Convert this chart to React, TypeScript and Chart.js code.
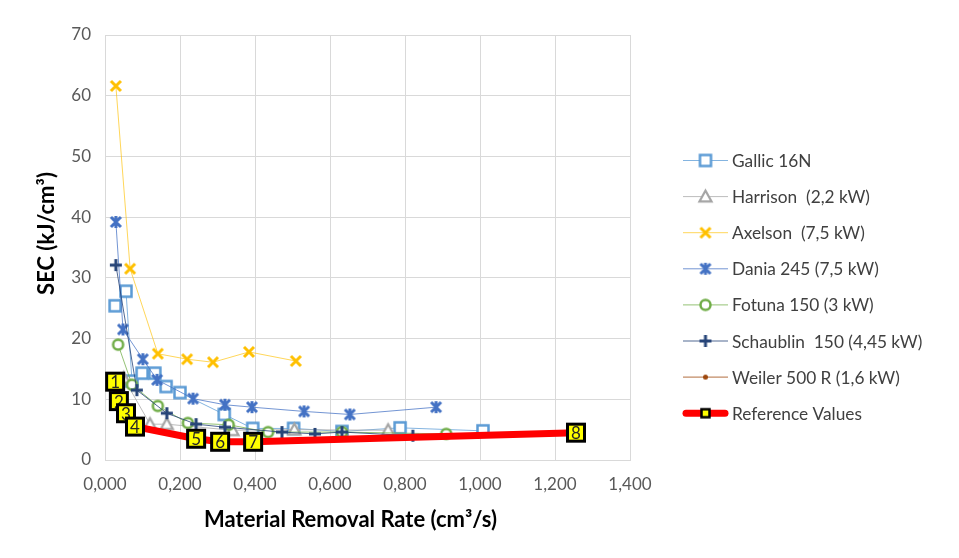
import React, { useEffect, useRef } from 'react';
import { Chart, registerables } from 'chart.js';

Chart.register(...registerables);

// Material removal rate (cm³/s) and specific energy (kJ/cm³) per machine
const gallicX = [0.027, 0.056, 0.072, 0.099, 0.133, 0.163, 0.200, 0.318, 0.394, 0.503, 0.632, 0.787, 1.008];
const gallicY = [25.4, 27.8, 13.0, 14.3, 14.3, 12.1, 11.1, 7.5, 5.2, 5.2, 4.7, 5.3, 4.8];

const harrisonX = [0.050, 0.120, 0.165, 0.340, 0.505, 0.755];
const harrisonY = [13.5, 5.9, 5.9, 4.9, 5.0, 4.9];

const axelsonX = [0.029, 0.067, 0.141, 0.219, 0.288, 0.384, 0.509];
const axelsonY = [61.6, 31.5, 17.5, 16.6, 16.1, 17.8, 16.3];

const daniaX = [0.029, 0.048, 0.101, 0.139, 0.235, 0.320, 0.392, 0.531, 0.653, 0.883];
const daniaY = [39.2, 21.5, 16.6, 13.2, 10.1, 9.1, 8.7, 8.0, 7.5, 8.7];

const fotunaX = [0.035, 0.072, 0.141, 0.221, 0.330, 0.435, 0.632, 0.910];
const fotunaY = [19.0, 12.4, 8.9, 6.1, 5.8, 4.6, 4.6, 4.3];

const schaublinX = [0.029, 0.085, 0.165, 0.243, 0.320, 0.472, 0.560, 0.632, 0.821];
const schaublinY = [32.1, 11.5, 7.7, 5.9, 5.4, 4.6, 4.3, 4.6, 4.0];

const weilerX = [0.028, 0.036, 0.052, 0.078];
const weilerY = [13.6, 10.0, 7.6, 5.8];

const referenceX = [0.027, 0.037, 0.056, 0.080, 0.243, 0.307, 0.395, 1.256];
const referenceY = [12.9, 9.7, 7.7, 5.5, 3.5, 3.0, 3.0, 4.5];
const referenceLabels = ['1', '2', '3', '4', '5', '6', '7', '8'];

const seriesNames = [
  'Gallic 16N',
  'Harrison  (2,2 kW)',
  'Axelson  (7,5 kW)',
  'Dania 245 (7,5 kW)',
  'Fotuna 150 (3 kW)',
  'Schaublin  150 (4,45 kW)',
  'Weiler 500 R (1,6 kW)',
  'Reference Values',
];

const xTicks = [0, 0.2, 0.4, 0.6, 0.8, 1.0, 1.2, 1.4];
const yTicks = [0, 10, 20, 30, 40, 50, 60, 70];

const FONT = 'Lato, "Open Sans", sans-serif';

type Shape = 'square' | 'triangle' | 'x' | 'star' | 'circle' | 'plus' | 'dot';

function makeMarker(shape: Shape, stroke: string, fill: string | null, size: number, lw: number) {
  const c = document.createElement('canvas');
  const dim = Math.ceil(size + lw * 2 + 2);
  c.width = dim;
  c.height = dim;
  const g = c.getContext('2d')!;
  const m = dim / 2;
  const h = size / 2;
  g.lineWidth = lw;
  g.strokeStyle = stroke;
  g.lineJoin = 'miter';
  g.beginPath();
  if (shape === 'square') {
    g.rect(m - h, m - h, size, size);
  } else if (shape === 'triangle') {
    g.moveTo(m, m - h);
    g.lineTo(m + h, m + h * 0.8);
    g.lineTo(m - h, m + h * 0.8);
    g.closePath();
  } else if (shape === 'x') {
    g.moveTo(m - h, m - h);
    g.lineTo(m + h, m + h);
    g.moveTo(m + h, m - h);
    g.lineTo(m - h, m + h);
  } else if (shape === 'star') {
    g.moveTo(m - h, m - h);
    g.lineTo(m + h, m + h);
    g.moveTo(m + h, m - h);
    g.lineTo(m - h, m + h);
    g.moveTo(m, m - h - 1);
    g.lineTo(m, m + h + 1);
  } else if (shape === 'plus') {
    g.moveTo(m - h, m);
    g.lineTo(m + h, m);
    g.moveTo(m, m - h);
    g.lineTo(m, m + h);
  } else {
    g.arc(m, m, h, 0, Math.PI * 2);
  }
  if (fill) {
    g.fillStyle = fill;
    g.fill();
  }
  if (shape !== 'dot') g.stroke();
  return c;
}

function toPoints(xs: number[], ys: number[]) {
  return xs.map((x, i) => ({ x, y: ys[i] }));
}

const decimalComma = (v: number, digits: number) => v.toFixed(digits).replace('.', ',');

export default function App() {
  const canvasRef = useRef<HTMLCanvasElement | null>(null);

  useEffect(() => {
    const canvas = canvasRef.current;
    if (!canvas) return;

    const styles = [
      { color: '#5B9BD5', line: 'rgba(91,155,213,0.75)', marker: makeMarker('square', '#5B9BD5', '#FFFFFF', 11, 2.5), width: 1 },
      { color: '#A5A5A5', line: 'rgba(165,165,165,0.75)', marker: makeMarker('triangle', '#A5A5A5', '#FFFFFF', 12, 2.25), width: 1 },
      { color: '#FFC000', line: 'rgba(255,192,0,0.65)', marker: makeMarker('x', '#FFC000', null, 10, 3), width: 1 },
      { color: '#4472C4', line: 'rgba(68,114,196,0.75)', marker: makeMarker('star', '#4472C4', null, 10, 3), width: 1 },
      { color: '#70AD47', line: 'rgba(112,173,71,0.75)', marker: makeMarker('circle', '#70AD47', '#FFFFFF', 10, 2.5), width: 1 },
      { color: '#264478', line: 'rgba(38,68,120,0.8)', marker: makeMarker('plus', '#264478', null, 12, 3), width: 1 },
      { color: '#9E480E', line: 'rgba(158,72,14,0.8)', marker: makeMarker('dot', '#9E480E', '#9E480E', 5, 1), width: 1 },
      { color: '#FF0000', line: '#FF0000', marker: makeMarker('square', '#000000', '#FFFF00', 8, 2.5), width: 7 },
    ];

    const seriesData = [
      toPoints(gallicX, gallicY),
      toPoints(harrisonX, harrisonY),
      toPoints(axelsonX, axelsonY),
      toPoints(daniaX, daniaY),
      toPoints(fotunaX, fotunaY),
      toPoints(schaublinX, schaublinY),
      toPoints(weilerX, weilerY),
      toPoints(referenceX, referenceY),
    ];
    const refIndex = seriesData.length - 1;

    const datasets = seriesData.map((data, i) => ({
      label: seriesNames[i],
      data,
      showLine: true,
      borderColor: styles[i].line,
      backgroundColor: styles[i].color,
      borderWidth: styles[i].width,
      pointStyle: styles[i].marker,
      pointRadius: 6,
      pointHoverRadius: 6,
      tension: 0,
      order: seriesData.length - i,
    }));

    const overlay = {
      id: 'overlay',
      afterDatasetsDraw(chart: any) {
        const ctx = chart.ctx as CanvasRenderingContext2D;
        const meta = chart.getDatasetMeta(refIndex);
        ctx.save();
        meta.data.forEach((pt: any, i: number) => {
          const { x, y } = pt.getProps(['x', 'y'], true);
          const s = 17;
          ctx.fillStyle = '#FFFF00';
          ctx.fillRect(x - s / 2, y - s / 2, s, s);
          ctx.lineWidth = 3;
          ctx.strokeStyle = '#000000';
          ctx.strokeRect(x - s / 2, y - s / 2, s, s);
          ctx.fillStyle = '#262626';
          ctx.font = `17px ${FONT}`;
          ctx.textAlign = 'center';
          ctx.textBaseline = 'middle';
          ctx.fillText(referenceLabels[i], x, y + 1);
        });
        ctx.restore();
      },
      afterDraw(chart: any) {
        const ctx = chart.ctx as CanvasRenderingContext2D;
        const area = chart.chartArea;
        ctx.save();

        // axis titles
        ctx.fillStyle = '#000000';
        ctx.font = `bold 22px ${FONT}`;
        ctx.textAlign = 'center';
        ctx.textBaseline = 'middle';
        ctx.fillText('Material Removal Rate (cm³/s)', (area.left + area.right) / 2 - 17, area.bottom + 60);
        ctx.save();
        ctx.translate(area.left - 58, (area.top + area.bottom) / 2 - 14);
        ctx.rotate(-Math.PI / 2);
        ctx.fillText('SEC (kJ/cm³)', 0, 0);
        ctx.restore();

        // legend
        const x0 = area.right + 53;
        const x1 = area.right + 98;
        const tx = area.right + 102;
        ctx.font = `17.3px ${FONT}`;
        ctx.textAlign = 'left';
        seriesNames.forEach((name, i) => {
          const y = area.top + 125.5 + i * 36.1;
          ctx.beginPath();
          ctx.strokeStyle = styles[i].line;
          ctx.lineWidth = styles[i].width;
          ctx.lineCap = i === refIndex ? 'round' : 'butt';
          ctx.moveTo(x0 + (i === refIndex ? 3 : 0), y);
          ctx.lineTo(x1 - (i === refIndex ? 3 : 0), y);
          ctx.stroke();
          const mk = styles[i].marker;
          ctx.drawImage(mk, (x0 + x1) / 2 - mk.width / 2, y - mk.height / 2);
          ctx.fillStyle = '#404040';
          ctx.fillText(name, tx, y + 1);
        });
        ctx.restore();
      },
    };

    const chart = new Chart(canvas, {
      type: 'scatter',
      data: { datasets },
      plugins: [overlay],
      options: {
        animation: false,
        responsive: true,
        maintainAspectRatio: false,
        layout: { padding: { top: 27, right: 321, bottom: 0, left: 0 } },
        plugins: {
          legend: { display: false },
          tooltip: { enabled: false },
        },
        scales: {
          x: {
            type: 'linear',
            min: xTicks[0],
            max: xTicks[xTicks.length - 1],
            afterBuildTicks: (s: any) => {
              s.ticks = xTicks.map((v) => ({ value: v }));
            },
            afterFit: (s: any) => {
              s.height = 90;
            },
            grid: { color: '#D9D9D9', drawTicks: false },
            border: { color: '#D9D9D9' },
            ticks: {
              padding: 14,
              color: '#595959',
              font: { family: FONT, size: 17 },
              callback: (v: any) => decimalComma(Number(v), 3),
            },
          },
          y: {
            type: 'linear',
            min: yTicks[0],
            max: yTicks[yTicks.length - 1],
            afterBuildTicks: (s: any) => {
              s.ticks = yTicks.map((v) => ({ value: v }));
            },
            afterFit: (s: any) => {
              s.width = 97;
            },
            grid: { color: '#D9D9D9', drawTicks: false },
            border: { color: '#D9D9D9' },
            ticks: {
              padding: 14,
              color: '#595959',
              font: { family: FONT, size: 17 },
              callback: (v: any) => String(v),
            },
          },
        },
      },
    });

    return () => chart.destroy();
  }, []);

  return (
    <div style={{ position: 'relative', width: 943, height: 542 }}>
      <canvas ref={canvasRef} />
    </div>
  );
}
